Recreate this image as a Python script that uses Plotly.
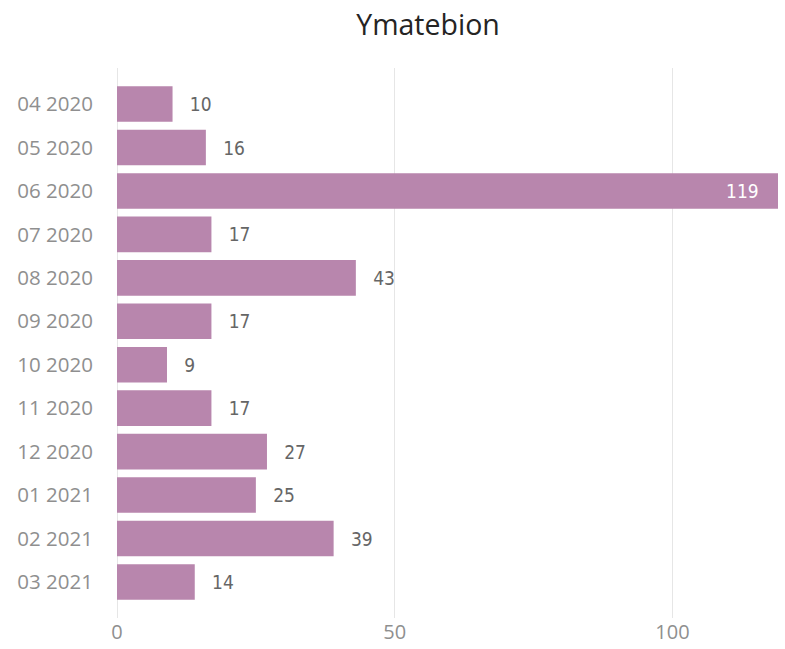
import plotly.graph_objects as go

categories = ["04 2020", "05 2020", "06 2020", "07 2020", "08 2020", "09 2020",
              "10 2020", "11 2020", "12 2020", "01 2021", "02 2021", "03 2021"]
values = [10, 16, 119, 17, 43, 17, 9, 17, 27, 25, 39, 14]
title_text = "Ymatebion"
x_ticks = [0, 50, 100]

bar_color = "#B886AD"
NB = "\u00a0"
TH = "\u2009"
positions = ["inside" if v >= 100 else "outside" for v in values]
text_colors = ["#FFFFFF" if v >= 100 else "#666666" for v in values]
labels = [(str(v) + NB * 3) if v >= 100 else (NB * 2 + TH + str(v)) for v in values]

fig = go.Figure(go.Bar(
    y=categories,
    x=values,
    orientation="h",
    marker=dict(color=bar_color, line=dict(width=0)),
    text=labels,
    textposition=positions,
    insidetextanchor="end",
    textfont=dict(family="DejaVu Sans Condensed", size=19, color=text_colors),
    constraintext="none",
    cliponaxis=False,
    width=0.82,
    hoverinfo="skip",
))

fig.update_layout(
    width=785, height=649,
    paper_bgcolor="white", plot_bgcolor="white",
    margin=dict(l=114, r=7, t=68, b=31, autoexpand=False),
    title=dict(text=title_text, x=428/785, xanchor="center", y=1 - 25/649, yanchor="middle",
               font=dict(family="Open Sans", size=28.5, color="#252423")),
    showlegend=False,
    uniformtext=dict(mode=False),
)
fig.update_xaxes(
    range=[-0.54, 119.0], tickvals=x_ticks, showgrid=True, gridcolor="#E6E6E6", gridwidth=1,
    zeroline=False, showline=False, ticks="", automargin=False,
    tickfont=dict(family="Open Sans", size=20, color="#8F8F8F"),
)
fig.update_yaxes(
    categoryorder="array", categoryarray=categories, autorange=False, range=[11.83, -0.83],
    showgrid=False, zeroline=False, showline=False, ticks="outside", ticklen=16, tickcolor="white",
    automargin=False,
    tickfont=dict(family="Open Sans", size=20.5, color="#8F8F8F"),
)

fig.write_html("out.html", config={"displayModeBar": False},
               post_script="document.body.style.margin='0px';")
